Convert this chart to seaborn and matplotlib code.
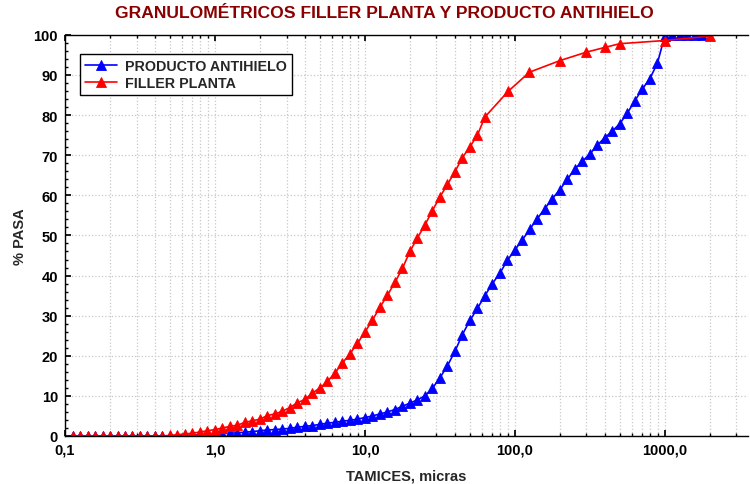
import numpy as np
import pandas as pd
import matplotlib
matplotlib.use("Agg")
import matplotlib.pyplot as plt
from matplotlib.ticker import AutoMinorLocator, NullFormatter, LogLocator
import seaborn as sns

# Laser-diffraction size classes, 20 per decade (micras)
laser_exp = np.arange(-19, 66) / 20.0
laser_sizes = np.round(10 ** laser_exp, 4)

# PRODUCTO ANTIHIELO: cumulative % passing on the laser grid (0.112 .. 1778 micras)
producto_pasa = [
    0.0, 0.0, 0.0, 0.0, 0.0, 0.0, 0.0, 0.0, 0.0, 0.0,
    0.0, 0.0, 0.0, 0.0, 0.0, 0.1, 0.2, 0.3, 0.4,
    0.5, 0.6, 0.7, 0.8, 0.95, 1.1, 1.3, 1.5, 1.6, 1.75,
    1.9, 2.2, 2.4, 2.6, 2.9, 3.2, 3.4, 3.7, 3.9, 4.2,
    4.6, 5.0, 5.5, 6.0, 6.6, 7.4, 8.2, 9.0, 10.0, 11.9,
    14.5, 17.5, 21.1, 25.3, 28.8, 31.8, 35.0, 38.0, 40.6, 43.8,
    46.4, 48.9, 51.6, 54.2, 56.7, 59.2, 61.4, 64.0, 66.6, 68.5,
    70.3, 72.5, 74.4, 76.0, 77.9, 80.5, 83.6, 86.5, 89.1, 92.9,
    99.8, 100.0, 100.0, 100.0, 100.0, 100.0,
]

# FILLER PLANTA: laser grid up to 56 micras, then sieve fractions
filler_laser_pasa = [
    0.0, 0.0, 0.0, 0.0, 0.0, 0.0, 0.0, 0.0, 0.0, 0.0,
    0.0, 0.0, 0.0, 0.15, 0.3, 0.5, 0.7, 1.0, 1.3,
    1.6, 2.0, 2.4, 2.7, 3.4, 3.8, 4.2, 5.1, 5.5, 6.2,
    7.1, 8.3, 9.1, 10.7, 12.0, 13.6, 15.7, 18.2, 20.5, 23.1,
    25.9, 28.9, 32.1, 35.1, 38.3, 41.8, 46.0, 49.4, 52.6, 56.2,
    59.6, 62.7, 65.9, 69.4, 72.1, 75.0,
]
tamices_filler = [63, 90, 125, 200, 300, 400, 500, 1000, 2000]
filler_tamiz_pasa = [79.5, 85.9, 90.7, 93.6, 95.7, 96.9, 97.8, 98.6, 99.7]

x_ticks = [0.1, 1, 10, 100, 1000]
x_tick_labels = ["0,1", "1,0", "10,0", "100,0", "1000,0"]
y_ticks = list(range(0, 101, 10))

producto = pd.DataFrame({"tamiz": laser_sizes, "pasa": producto_pasa})
filler = pd.DataFrame({
    "tamiz": np.concatenate([laser_sizes[:len(filler_laser_pasa)], tamices_filler]),
    "pasa": filler_laser_pasa + filler_tamiz_pasa,
})

sns.set_theme(style="white")
plt.rcParams["font.family"] = ["Liberation Sans", "DejaVu Sans"]
plt.rcParams["font.weight"] = "bold"

fig = plt.figure(figsize=(7.5, 4.85), dpi=100)
ax = fig.add_axes([0.0867, 0.099, 0.911, 0.827])

line_kw = dict(marker="^", markersize=7.5, linewidth=1.2, markeredgewidth=0.6)
sns.lineplot(data=producto, x="tamiz", y="pasa", ax=ax, color="#0000ff",
             markeredgecolor="#0000ff", label="PRODUCTO ANTIHIELO", sort=False, **line_kw)
sns.lineplot(data=filler, x="tamiz", y="pasa", ax=ax, color="#ff0000",
             markeredgecolor="#ff0000", label="FILLER PLANTA", sort=False, **line_kw)

ax.set_xscale("log")
ax.set_xlim(0.1, 3600)
ax.set_ylim(0, 100)
ax.set_xticks(x_ticks, labels=x_tick_labels)
ax.xaxis.set_minor_locator(LogLocator(base=10, subs=np.arange(2, 10)))
ax.xaxis.set_minor_formatter(NullFormatter())
ax.set_yticks(y_ticks)
ax.yaxis.set_minor_locator(AutoMinorLocator(5))

ax.grid(True, which="major", axis="both", color="#c8c8c8", linestyle=":", linewidth=0.9)
ax.grid(True, which="minor", axis="x", color="#c8c8c8", linestyle=":", linewidth=0.9)

for side in ["left", "bottom", "top"]:
    ax.spines[side].set_visible(True)
    ax.spines[side].set_color("black")
    ax.spines[side].set_linewidth(1.0)
ax.spines["right"].set_visible(False)

ax.tick_params(axis="both", which="both", direction="in", top=True, left=True,
               bottom=True, right=False, colors="black")
ax.tick_params(axis="both", which="major", length=4, labelsize=10.5, pad=5)
ax.tick_params(axis="both", which="minor", length=2)
for lab in ax.get_xticklabels() + ax.get_yticklabels():
    lab.set_fontweight("bold")

ax.set_xlabel("TAMICES, micras", fontsize=10.5, fontweight="bold", labelpad=8)
ax.set_ylabel("% PASA", fontsize=10.5, fontweight="bold", labelpad=5)
fig.suptitle("GRANULOMÉTRICOS FILLER PLANTA Y PRODUCTO ANTIHIELO",
             x=0.513, y=0.988, fontsize=12.6, fontweight="bold", color="#8b0000")

leg = ax.legend(loc="upper left", bbox_to_anchor=(0.022, 0.952), frameon=True,
                fancybox=False, shadow=False, framealpha=1, edgecolor="black",
                prop={"weight": "bold", "size": 10.3}, handlelength=2.2,
                borderpad=0.35, labelspacing=0.2, handletextpad=0.6, borderaxespad=0)
leg.get_frame().set_linewidth(1.0)

fig.savefig("out.png", dpi=100)
